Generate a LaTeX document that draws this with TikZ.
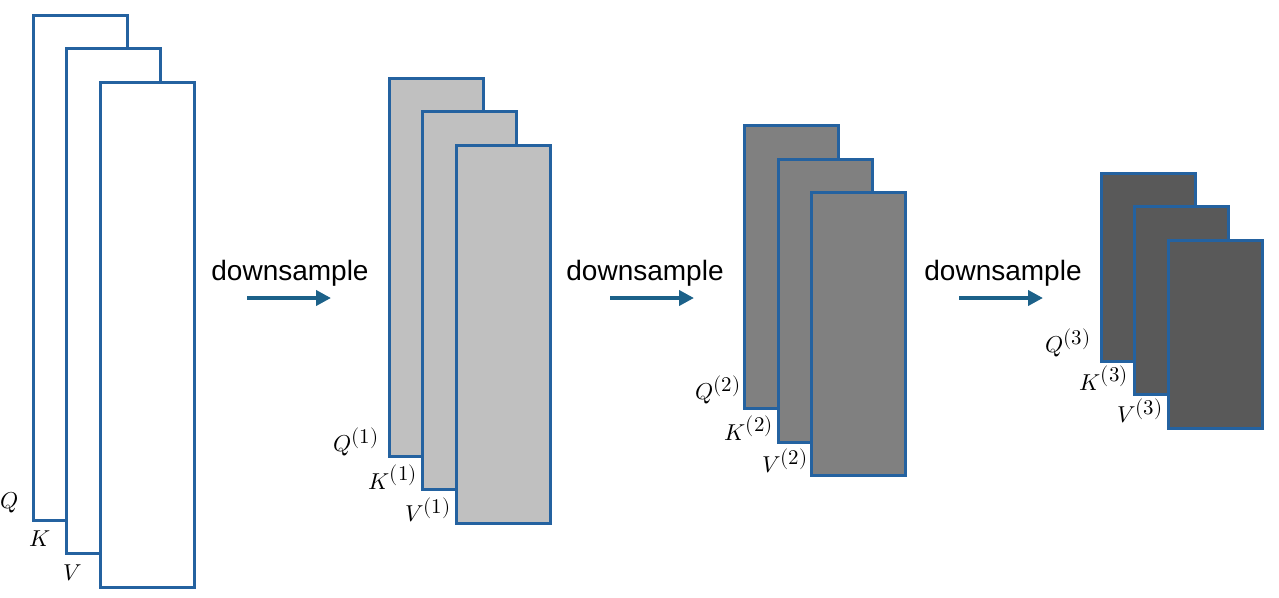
\documentclass[tikz,border=0pt]{standalone}
\usepackage{graphicx}
\usepackage{fontspec}
\usepackage{unicode-math}
\setmainfont{Liberation Sans}
\setmathfont{Latin Modern Math}
\usetikzlibrary{arrows.meta}
\definecolor{edgeblue}{HTML}{2462A0}
\definecolor{arrblue}{HTML}{1C6189}
\definecolor{g1}{HTML}{C0C0C0}
\definecolor{g2}{HTML}{808080}
\definecolor{g3}{HTML}{595959}
\newcommand{\lvl}[1]{^{\scalebox{1.3}{$\scriptstyle(#1)$}}}
\tikzset{
  sheet/.style={draw=edgeblue, line width=2.6pt, inner sep=0pt, anchor=north west},
  lab/.style={inner sep=0pt, font=\fontsize{23}{27}\selectfont},
  dtext/.style={inner sep=0pt, font=\fontsize{28}{32}\selectfont},
  darrow/.style={draw=arrblue, line width=3.8pt, -{Triangle[length=15pt,width=15pt]}}
}
\begin{document}
\begin{tikzpicture}[x=1pt,y=-1pt]
\useasboundingbox (0,0) rectangle (1279,597);
% group 0
\node[sheet, fill=white, minimum width=94pt, minimum height=505pt] (q0) at (32,14) {};
\node[sheet, fill=white, minimum width=94pt, minimum height=505pt] (k0) at (65,47) {};
\node[sheet, fill=white, minimum width=94pt, minimum height=505pt] (v0) at (99,81) {};
\node[lab] (lq0) at (10,503) {$Q$};
\node[lab] (lk0) at (40,539) {$K$};
\node[lab] (lv0) at (73,573) {$V$};
% group 1
\node[sheet, fill=g1, minimum width=94pt, minimum height=378pt] (q1) at (388,77) {};
\node[sheet, fill=g1, minimum width=94pt, minimum height=378pt] (k1) at (421,110) {};
\node[sheet, fill=g1, minimum width=94pt, minimum height=378pt] (v1) at (455,144) {};
\node[lab] (lq1) at (356,442) {$Q\lvl{1}$};
\node[lab] (lk1) at (393,477) {$K\lvl{1}$};
\node[lab] (lv1) at (428,510) {$V\lvl{1}$};
% group 2
\node[sheet, fill=g2, minimum width=94pt, minimum height=283pt] (q2) at (743,124) {};
\node[sheet, fill=g2, minimum width=94pt, minimum height=283pt] (k2) at (777,158) {};
\node[sheet, fill=g2, minimum width=94pt, minimum height=283pt] (v2) at (810,191) {};
\node[lab] (lq2) at (718,390) {$Q\lvl{2}$};
\node[lab] (lk2) at (749,428) {$K\lvl{2}$};
\node[lab] (lv2) at (785,461) {$V\lvl{2}$};
% group 3
\node[sheet, fill=g3, minimum width=94pt, minimum height=188pt] (q3) at (1100,172) {};
\node[sheet, fill=g3, minimum width=94pt, minimum height=188pt] (k3) at (1133,205) {};
\node[sheet, fill=g3, minimum width=94pt, minimum height=188pt] (v3) at (1167,239) {};
\node[lab] (lq3) at (1068,343) {$Q\lvl{3}$};
\node[lab] (lk3) at (1104,378) {$K\lvl{3}$};
\node[lab] (lv3) at (1140,411) {$V\lvl{3}$};
% downsample arrows
\node[dtext] (d1) at (290,273) {downsample};
\node[dtext] (d2) at (645,273) {downsample};
\node[dtext] (d3) at (1003,273) {downsample};
\coordinate (a1s) at (247,298); \coordinate (a1e) at (331,298);
\coordinate (a2s) at (610,298); \coordinate (a2e) at (694,298);
\coordinate (a3s) at (959,298); \coordinate (a3e) at (1043,298);
\draw[darrow] (a1s) -- (a1e);
\draw[darrow] (a2s) -- (a2e);
\draw[darrow] (a3s) -- (a3e);
\end{tikzpicture}
\end{document}
